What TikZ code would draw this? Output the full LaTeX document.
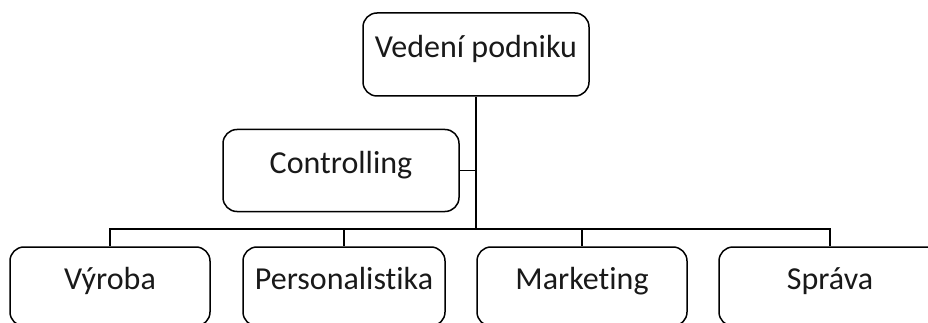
\documentclass[tikz,border=0pt]{standalone}
\usepackage{fontspec}
\setmainfont{Carlito}[Ligatures=NoCommon]
\begin{document}
\begin{tikzpicture}[x=1pt,y=-1pt,
  box/.style={draw=black,line width=1.5pt,rounded corners=14pt,fill=white,
    inner sep=0pt,font=\fontsize{32}{38}\selectfont,text=black!90,
    text height=0.64em,text depth=0pt},
  conn/.style={draw=black,line width=1.6pt}]
\clip (0,0) rectangle (928,323);
\fill[white] (0,0) rectangle (928,323);
\node[box,minimum width=226pt,minimum height=83pt] (top) at (476,54.5) {Vedení podniku};
\node[box,minimum width=236pt,minimum height=82pt] (ctrl) at (341,170.5) {Controlling};
\node[box,minimum width=200pt,minimum height=79pt] (vyr) at (110,286.5) {Výroba};
\node[box,minimum width=202pt,minimum height=79pt] (per) at (344,286.5) {Personalistika};
\node[box,minimum width=210pt,minimum height=79pt] (mar) at (582,286.5) {Marketing};
\node[box,minimum width=222pt,minimum height=79pt] (spr) at (830,286.5) {Správa};
\coordinate (j) at (476,229);
\draw[conn,line width=2pt] (top.south) -- (j);
\draw[conn] (ctrl.east) -- (ctrl.east -| j);
\draw[conn] (j) -| (vyr.north);
\draw[conn] (j) -| (per.north);
\draw[conn] (j) -| (mar.north);
\draw[conn] (j) -| (spr.north);
\end{tikzpicture}
\end{document}
